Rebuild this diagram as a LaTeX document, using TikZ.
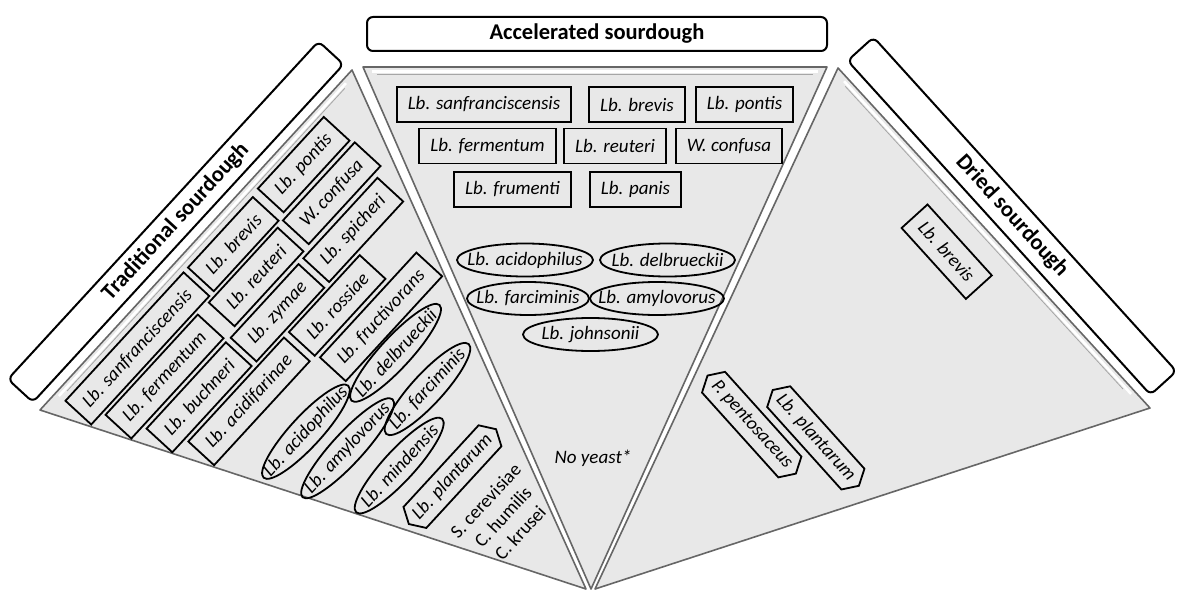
\documentclass[tikz,border=0pt]{standalone}
\usepackage{fontspec}
\setmainfont{Carlito}
\usetikzlibrary{shapes.geometric,shapes.misc,shapes.symbols,calc}
\begin{document}
\begin{tikzpicture}[x=1pt,y=1pt,
  lab/.style={font=\fontsize{19}{23}\selectfont\itshape},
  sbox/.style={draw, line width=1.8pt, rectangle, minimum height=35pt, inner xsep=11pt, inner ysep=0pt, lab},
  ell/.style={draw, line width=1.8pt, ellipse, inner xsep=-30pt, inner ysep=-12pt, minimum width=#1, minimum height=33pt, lab},
  hexa/.style={draw, line width=1.8pt, signal, signal to=east and west, signal pointer angle=120, inner xsep=1pt, inner ysep=0pt, minimum height=31pt, lab},
  hdr/.style={draw, line width=2pt, fill=white, rounded corners=6pt, minimum height=34pt, font=\fontsize{22.5}{26}\selectfont\bfseries},
  panel/.style={fill=gray!18, draw=black!60, line width=1.6pt, line join=round},
  bevel/.style={white, line width=2.6pt},
  bevelin/.style={black!35, line width=0.8pt}
]
\useasboundingbox (0,0) rectangle (1180,-591);
% panels
\coordinate (LT) at (352,-70);  \coordinate (LL) at (40,-410);   \coordinate (LB) at (586,-589);
\coordinate (MT1) at (363,-67); \coordinate (MT2) at (827,-67);  \coordinate (MB) at (591,-589);
\coordinate (RT) at (838,-68);  \coordinate (RR) at (1150,-408); \coordinate (RB) at (595,-589);
\draw[panel] (LT) -- (LL) -- (LB) -- cycle;
\draw[panel] (MT1) -- (MT2) -- (MB) -- cycle;
\draw[panel] (RT) -- (RR) -- (RB) -- cycle;
% bevels along the header-facing edges
\draw[bevel] ($(LT)!0.03!(LL)+(3.3,-3.0)$) -- ($(LL)!0.05!(LT)+(3.3,-3.0)$);
\draw[bevelin] ($(LT)!0.04!(LL)+(5.2,-4.8)$) -- ($(LL)!0.07!(LT)+(5.2,-4.8)$);
\draw[bevel] ($(MT1)!0.02!(MT2)+(0,-4.5)$) -- ($(MT2)!0.02!(MT1)+(0,-4.5)$);
\draw[bevelin] ($(MT1)!0.03!(MT2)+(0,-7)$) -- ($(MT2)!0.03!(MT1)+(0,-7)$);
\draw[bevel] ($(RT)!0.03!(RR)+(-3.3,-3.0)$) -- ($(RR)!0.05!(RT)+(-3.3,-3.0)$);
\draw[bevelin] ($(RT)!0.04!(RR)+(-5.2,-4.8)$) -- ($(RR)!0.07!(RT)+(-5.2,-4.8)$);

% middle panel
\node[hdr, minimum width=460pt] (hm) at (597,-34) {Accelerated sourdough};
\node[sbox] (m1) at (484,-104.5) {Lb. sanfranciscensis};
\node[sbox] (m2) at (637,-104.5) {Lb. brevis};
\node[sbox] (m3) at (744.5,-104.5) {Lb. pontis};
\node[sbox] (m4) at (487.5,-146) {Lb. fermentum};
\node[sbox] (m5) at (615,-146) {Lb. reuteri};
\node[sbox] (m6) at (729,-146) {W. confusa};
\node[sbox] (m7) at (512.5,-189.5) {Lb. frumenti};
\node[sbox] (m8) at (635.5,-189.5) {Lb. panis};
\node[ell=136pt] (m9) at (525,-260) {Lb. acidophilus};
\node[ell=135pt] (m10) at (667.5,-260) {Lb. delbrueckii};
\node[ell=122pt] (m11) at (528,-298.5) {Lb. farciminis};
\node[ell=134pt] (m12) at (657,-298.5) {Lb. amylovorus};
\node[ell=135pt] (m13) at (590.5,-334.5) {Lb. johnsonii};
\node[lab] (m14) at (593,-458) {No yeast*};

% left panel
\begin{scope}[rotate=47.4, transform shape]
\node[hdr, minimum width=459pt] (hl) at (-44.3,-279.5) {Traditional sourdough};
\node[sbox] (l1) at (-163.5,-337) {Lb. sanfranciscensis};
\node[sbox] (l2) at (-21.8,-337) {Lb. brevis};
\node[sbox] (l3) at (84.4,-335) {Lb. pontis};
\node[sbox] (l4) at (-165.8,-376) {Lb. fermentum};
\node[sbox] (l5) at (-30.5,-376) {Lb. reuteri};
\node[sbox] (l6) at (82.3,-375) {W. confusa};
\node[sbox] (l7) at (-157.7,-415.5) {Lb. buchneri};
\node[sbox] (l8) at (-42.4,-416) {Lb. zymae};
\node[sbox] (l9) at (69.9,-415.7) {Lb. spicheri};
\node[sbox] (l10) at (-126.9,-455) {Lb. acidifarinae};
\node[sbox] (l11) at (3.4,-455) {Lb. rossiae};
\node[sbox] (l12) at (24.7,-495) {Lb. fructivorans};
\node[ell=125pt, minimum height=31pt] (l13) at (-110.7,-517.4) {Lb. acidophilus};
\node[ell=130pt, minimum height=31pt] (l14) at (8,-530) {Lb. delbrueckii};
\node[ell=133pt, minimum height=31pt] (l15) at (-94.7,-559.3) {Lb. amylovorus};
\node[ell=122pt, minimum height=31pt] (l16) at (3,-578) {Lb. farciminis};
\node[ell=127pt, minimum height=31pt] (l17) at (-72.5,-609) {Lb. mindensis};
\node[hexa] (l18) at (-44.6,-655.7) {Lb. plantarum};
\node[font=\fontsize{19}{23.5}\selectfont, align=center] (l19) at (-40,-720) {S. cerevisiae\\C. humilis\\C. krusei};
\end{scope}

% right panel
\node[hdr, rotate=-47.8, minimum width=451pt, minimum height=35pt] (hr) at (1012,-216) {Dried sourdough};
\node[sbox, rotate=-47.8] (r1) at (946.7,-251.7) {Lb. brevis};
\node[hexa, rotate=-48] (r2) at (751.7,-424.6) {P. pentosaceus};
\node[hexa, rotate=-48] (r3) at (815.8,-437.9) {Lb. plantarum};
\end{tikzpicture}
\end{document}
